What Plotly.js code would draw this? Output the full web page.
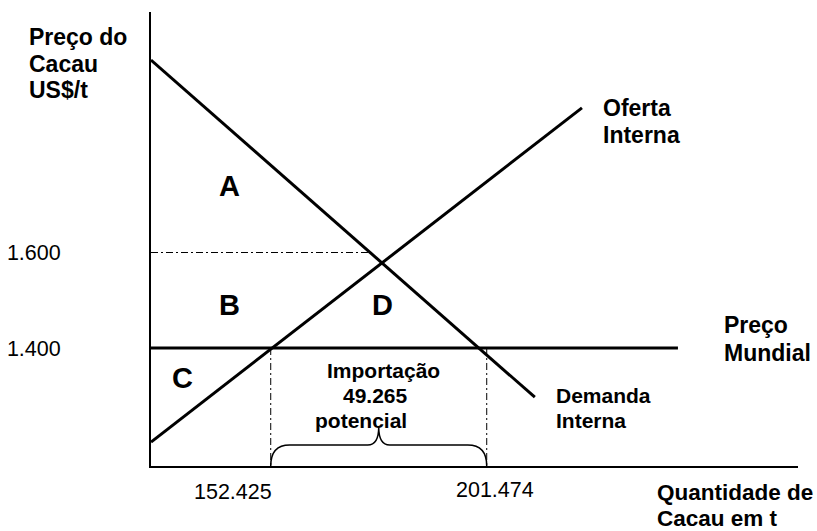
<!DOCTYPE html>
<html>
<head>
<meta charset="utf-8">
<script src="https://cdn.plot.ly/plotly-3.0.1.min.js"></script>
<style>html,body{margin:0;padding:0;background:#fff;}#chart{width:817px;height:531px;}</style>
</head>
<body>
<div id="chart"></div>
<script>
// ---- data (quantity in thousand t, price in US$/t) ----
const quantityTicks = [152.425, 201.474];
const quantityTickText = ["152.425", "201.474"];
const priceTicks = [1400, 1600];
const priceTickText = ["1.400", "1.600"];
const quantityRange = [125.24, 272.16];
const priceRange = [1152.9, 2103.7];
const demandQ = [125.24, 212.4];
const demandP = [2003, 1297];
const supplyQ = [125.24, 223.1];
const supplyP = [1203, 1903];
const worldQ = [125.24, 244.9];
const worldP = [1400, 1400];
const guideQ = [125.24, 174.5];
const guideP = [1600, 1600];
const areaLabels = ["A", "B", "C", "D"];
const importLines = ["Importação", "49.265", "potencial"];
const yTitleLines = ["Preço do", "Cacau", "US$/t"];
const xTitleLines = ["Quantidade de", "Cacau em t"];
const supplyLines = ["Oferta", "Interna"];
const demandLines = ["Demanda", "Interna"];
const worldLines = ["Preço", "Mundial"];

// ---- layout helpers ----
const W = 817, H = 531, L = 151, R = 19, T = 12, B = 65;
const PW = W - L - R, PH = H - T - B;
const px = v => (v - L) / PW;           // pixel -> paper x
const py = v => (H - B - v) / PH;       // pixel -> paper y
const FONT = "Liberation Sans, Arial, sans-serif";

const lineBase = {mode: "lines", hoverinfo: "skip", showlegend: false};
const dashdot = "7px,3px,2px,3px";

const traces = [
  Object.assign({x: demandQ, y: demandP, line: {color: "#000", width: 3}}, lineBase),
  Object.assign({x: supplyQ, y: supplyP, line: {color: "#000", width: 3}}, lineBase),
  Object.assign({x: worldQ, y: worldP, line: {color: "#000", width: 3}}, lineBase),
  Object.assign({x: guideQ, y: guideP, line: {color: "#000", width: 1, dash: dashdot}}, lineBase),
  Object.assign({x: [quantityTicks[0], quantityTicks[0]], y: [worldP[0], priceRange[0]], line: {color: "#000", width: 1, dash: dashdot}}, lineBase),
  Object.assign({x: [quantityTicks[1], quantityTicks[1]], y: [worldP[0], priceRange[0]], line: {color: "#000", width: 1, dash: dashdot}}, lineBase)
];

// curly brace under the import gap
const bx0 = quantityTicks[0], bx1 = quantityTicks[1], bm = (bx0 + bx1) / 2;
const yk = (priceRange[1] - priceRange[0]) / PH;   // price units per pixel
const xk = (quantityRange[1] - quantityRange[0]) / PW;
const yb = priceRange[0], yf = yb + 21 * yk, yt = yb + 39 * yk;
const rx = 19 * xk, mx = 11 * xk;
const bracePath = `M ${bx0},${yb} Q ${bx0},${yf} ${bx0 + rx},${yf} L ${bm - mx},${yf} Q ${bm},${yf} ${bm},${yt} Q ${bm},${yf} ${bm + mx},${yf} L ${bx1 - rx},${yf} Q ${bx1},${yf} ${bx1},${yb}`;

const ann = (text, x, y, size, bold, xanchor) => ({
  text: bold ? "<b>" + text + "</b>" : text,
  xref: "paper", yref: "paper", x: px(x), y: py(y),
  xanchor: xanchor || "left", yanchor: "middle", showarrow: false,
  font: {family: FONT, size: size, color: "#000"}, align: "left"
});
const block = (lines, x, ys, size) => lines.map((t, i) => ann(t, x, ys[i], size, true));

const annotations = [].concat(
  block(yTitleLines, 27, [37, 64.5, 90.5], 23),
  block(supplyLines, 601, [108, 135], 23),
  block(worldLines, 722, [325, 352.5], 23),
  block(demandLines, 554, [395.5, 420], 21),
  block(xTitleLines, 655, [492.5, 518.5], 22.5),
  [
    ann(areaLabels[0], 229, 185.5, 29, true, "center"),
    ann(areaLabels[1], 229, 305, 29, true, "center"),
    ann(areaLabels[2], 182, 378, 29, true, "center"),
    ann(areaLabels[3], 382.5, 305, 29, true, "center"),
    ann(importLines[0], 383, 370, 21, true, "center"),
    ann(importLines[1], 375.5, 395, 21, true, "center"),
    ann(importLines[2], 361, 420, 21, true, "center"),
    ann(quantityTickText[0], 232.5, 491.5, 21.5, false, "center"),
    ann(quantityTickText[1], 495, 490, 21.5, false, "center")
  ]
);

const layout = {
  width: W, height: H,
  margin: {l: L, r: R, t: T, b: B, pad: 0},
  paper_bgcolor: "#fff", plot_bgcolor: "#fff",
  showlegend: false,
  xaxis: {range: quantityRange, showgrid: false, zeroline: false, showline: true,
          linecolor: "#000", linewidth: 2, showticklabels: false, ticks: "", fixedrange: true},
  yaxis: {range: priceRange, showgrid: false, zeroline: false, showline: true,
          linecolor: "#000", linewidth: 2, ticks: "", tickvals: priceTicks, ticktext: priceTickText,
          ticklabelstandoff: 84, tickfont: {family: FONT, size: 21.5, color: "#000"}, fixedrange: true},
  shapes: [{type: "path", path: bracePath, xref: "x", yref: "y", line: {color: "#000", width: 1.5}}],
  annotations: annotations
};

Plotly.newPlot("chart", traces, layout, {staticPlot: true, displayModeBar: false});
</script>
</body>
</html>
